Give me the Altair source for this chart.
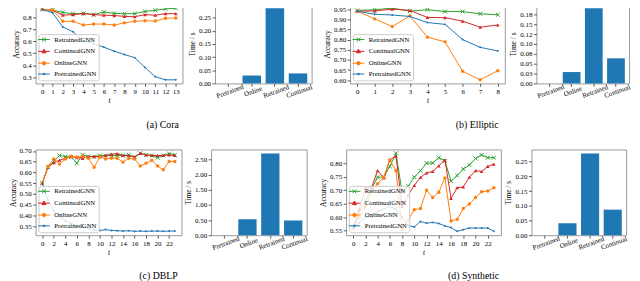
import altair as alt
import pandas as pd

FONT = "Liberation Serif"
SERIES = ["RetrainedGNN", "ContinualGNN", "OnlineGNN", "PretrainedGNN"]
COLORS = ["#2ca02c", "#d62728", "#ff7f0e", "#1f77b4"]
BAR_CATS = ["Pretrained", "Online", "Retrained", "Continual"]

# ---- (a) Cora ----
cora_t = list(range(14))
cora_retrained = [0.866, 0.860, 0.841, 0.830, 0.833, 0.823, 0.844, 0.833, 0.830, 0.831, 0.849, 0.859, 0.870, 0.877]
cora_continual = [0.866, 0.862, 0.818, 0.823, 0.831, 0.823, 0.818, 0.815, 0.808, 0.805, 0.823, 0.818, 0.831, 0.831]
cora_online = [0.866, 0.862, 0.767, 0.767, 0.736, 0.744, 0.744, 0.736, 0.754, 0.767, 0.772, 0.769, 0.792, 0.795]
cora_pretrained = [0.866, 0.838, 0.720, 0.679, 0.603, 0.582, 0.551, 0.518, 0.490, 0.464, 0.382, 0.305, 0.279, 0.279]
cora_time = [0.0, 0.030, 0.286, 0.038]
cora_yticks = [0.3, 0.4, 0.5, 0.6, 0.7, 0.8, 0.9]
cora_xticks = list(range(14))
cora_bar_ticks = [0.0, 0.05, 0.10, 0.15, 0.20, 0.25]

# ---- (b) Elliptic ----
ell_t = list(range(9))
ell_retrained = [0.944, 0.947, 0.955, 0.940, 0.947, 0.938, 0.938, 0.927, 0.922]
ell_continual = [0.940, 0.941, 0.950, 0.944, 0.909, 0.908, 0.891, 0.861, 0.872]
ell_online = [0.940, 0.902, 0.864, 0.917, 0.812, 0.789, 0.644, 0.602, 0.647]
ell_pretrained = [0.940, 0.925, 0.921, 0.914, 0.884, 0.875, 0.800, 0.762, 0.744]
ell_time = [0.0, 0.0288, 0.1907, 0.0637]
ell_yticks = [0.60, 0.65, 0.70, 0.75, 0.80, 0.85, 0.90, 0.95]
ell_xticks = list(range(9))
ell_bar_ticks = [0.0, 0.025, 0.05, 0.075, 0.10, 0.125, 0.15, 0.175, 0.20]
ell_bar_labels = ["0.00", "0.03", "0.05", "0.08", "0.10", "0.12", "0.15", "0.18", "0.20"]

# ---- (c) DBLP ----
dblp_t = list(range(24))
dblp_retrained = [0.550, 0.624, 0.651, 0.679, 0.674, 0.672, 0.643, 0.682, 0.674, 0.674, 0.679, 0.679,
                  0.679, 0.679, 0.679, 0.682, 0.672, 0.689, 0.682, 0.679, 0.669, 0.679, 0.688, 0.682]
dblp_continual = [0.550, 0.625, 0.646, 0.657, 0.666, 0.674, 0.669, 0.666, 0.674, 0.674, 0.674, 0.679,
                  0.685, 0.688, 0.679, 0.679, 0.672, 0.689, 0.682, 0.679, 0.679, 0.679, 0.682, 0.679]
dblp_online = [0.550, 0.628, 0.663, 0.639, 0.663, 0.676, 0.672, 0.676, 0.666, 0.624, 0.672, 0.663,
               0.666, 0.666, 0.648, 0.666, 0.663, 0.630, 0.643, 0.657, 0.630, 0.613, 0.651, 0.651]
dblp_pretrained = [0.550, 0.470, 0.420, 0.395, 0.375, 0.362, 0.352, 0.345, 0.340, 0.333, 0.330, 0.334,
                   0.330, 0.329, 0.327, 0.329, 0.326, 0.327, 0.326, 0.327, 0.327, 0.326, 0.327, 0.327]
dblp_time = [0.0, 0.53, 2.70, 0.49]
dblp_yticks = [0.35, 0.40, 0.45, 0.50, 0.55, 0.60, 0.65, 0.70]
dblp_xticks = list(range(0, 23, 2))
dblp_bar_ticks = [0.0, 0.5, 1.0, 1.5, 2.0, 2.5]

# ---- (d) Synthetic ----
syn_t = list(range(24))
syn_retrained = [0.560, 0.620, 0.660, 0.704, 0.748, 0.748, 0.788, 0.836, 0.692, 0.715, 0.748, 0.772,
                 0.800, 0.800, 0.820, 0.808, 0.733, 0.754, 0.778, 0.793, 0.817, 0.830, 0.820, 0.820]
syn_continual = [0.560, 0.630, 0.709, 0.709, 0.772, 0.745, 0.812, 0.826, 0.640, 0.682, 0.718, 0.747,
                 0.764, 0.769, 0.790, 0.812, 0.670, 0.709, 0.712, 0.748, 0.772, 0.769, 0.788, 0.796]
syn_online = [0.560, 0.600, 0.640, 0.694, 0.724, 0.748, 0.812, 0.772, 0.555, 0.590, 0.628, 0.632,
              0.700, 0.673, 0.692, 0.745, 0.586, 0.592, 0.632, 0.649, 0.673, 0.694, 0.697, 0.709]
syn_pretrained = [0.560, 0.580, 0.600, 0.600, 0.620, 0.630, 0.640, 0.630, 0.600, 0.570, 0.564, 0.584,
                  0.578, 0.581, 0.577, 0.568, 0.562, 0.548, 0.554, 0.560, 0.560, 0.560, 0.560, 0.548]
syn_time = [0.0, 0.0405, 0.278, 0.087]
syn_yticks = [0.55, 0.60, 0.65, 0.70, 0.75, 0.80]
syn_xticks = list(range(0, 23, 2))
syn_bar_ticks = [0.0, 0.05, 0.10, 0.15, 0.20, 0.25]

# ---- marker styles (shape, filled, size) ----
MARKERS = [
    ("M-1,-1L1,1M-1,1L1,-1", False, 16),
    ("triangle-up", True, 14),
    ("circle", True, 12),
    ("circle", True, 4),
]
LEGEND_PATHS = [
    "M-2,0L2,0M-0.67,-0.67L0.67,0.67M-0.67,0.67L0.67,-0.67",
    "M-2,0L2,0M0,-0.75L0.7,0.5L-0.7,0.5Z",
    "M-2,0L2,0M0.6,0A0.6,0.6,0,1,1,-0.6,0A0.6,0.6,0,1,1,0.6,0Z",
    "M-2,0L2,0M0.3,0A0.3,0.3,0,1,1,-0.3,0A0.3,0.3,0,1,1,0.3,0Z",
]


def padded(vals):
    lo, hi = min(vals), max(vals)
    m = (hi - lo) * 0.05
    return [lo - m, hi + m]


def line_panel(t, series_vals, yticks, yfmt, xticks, width, height):
    rows = []
    for name, vals in zip(SERIES, series_vals):
        for ti, v in zip(t, vals):
            rows.append({"t": ti, "series": name, "acc": v})
    df = pd.DataFrame(rows)
    ydom = padded([v for vals in series_vals for v in vals])
    xdom = padded(t)
    x = alt.X("t:Q", scale=alt.Scale(domain=xdom, nice=False, zero=False),
              axis=alt.Axis(values=xticks, title="t", titleFontStyle="italic",
                            labelFlush=False, labelOverlap=False, format="d"))
    y = alt.Y("acc:Q", scale=alt.Scale(domain=ydom, nice=False, zero=False),
              axis=alt.Axis(values=yticks, format=yfmt, title="Accuracy", labelOverlap=False))
    base = alt.Chart(df)
    layers = []
    for name, color, (shape, filled, size) in zip(SERIES, COLORS, MARKERS):
        sub = base.transform_filter(alt.datum.series == name)
        layers.append(sub.mark_line(color=color, strokeWidth=1).encode(x=x, y=y))
        layers.append(sub.mark_point(shape=shape, filled=filled, color=color, size=size,
                                     opacity=1, strokeWidth=1).encode(x=x, y=y))
    leg = alt.Legend(title=None, orient="bottom-left", offset=3,
                     fillColor="rgba(255,255,255,0.8)", strokeColor="#cccccc",
                     cornerRadius=2, padding=2, rowPadding=3, labelOffset=7,
                     labelFont=FONT, labelFontSize=6.8, labelColor="black",
                     symbolSize=36, symbolStrokeWidth=1, symbolOpacity=1)
    legend_layer = base.transform_filter("false").mark_point(filled=True, opacity=1, strokeWidth=1).encode(
        x=x, y=y,
        shape=alt.Shape("series:N", scale=alt.Scale(domain=SERIES, range=LEGEND_PATHS), legend=leg, sort=SERIES),
        fill=alt.Fill("series:N", scale=alt.Scale(domain=SERIES, range=COLORS), legend=leg, sort=SERIES),
        stroke=alt.Stroke("series:N", scale=alt.Scale(domain=SERIES, range=COLORS), legend=leg, sort=SERIES),
    )
    return alt.layer(*layers, legend_layer).properties(width=width, height=height)


def bar_panel(times, ticks, width, height, fmt=".2f", labels=None):
    df = pd.DataFrame({"method": BAR_CATS, "time": times})
    top = max(times) * 1.05
    if labels is not None:
        arr = "[" + ",".join("'%s'" % s for s in labels) + "]"
        step = ticks[1] - ticks[0]
        axis = alt.Axis(values=ticks, title="Time / s", labelOverlap=False,
                        labelExpr=arr + "[round(datum.value/%r)]" % step)
    else:
        axis = alt.Axis(values=ticks, title="Time / s", format=fmt, labelOverlap=False)
    return alt.Chart(df).mark_bar(color="#1f77b4").encode(
        x=alt.X("method:N", sort=BAR_CATS,
                scale=alt.Scale(paddingInner=0.2, paddingOuter=0.19),
                axis=alt.Axis(title=None, labelAngle=340, labelAlign="center", labelBaseline="top",
                              labelOverlap=False, labelPadding=1)),
        y=alt.Y("time:Q", scale=alt.Scale(domain=[0, top], nice=False), axis=axis),
    ).properties(width=width, height=height)


IND = dict(fill="independent", stroke="independent", shape="independent")


def pair(line, bar, caption, spacing, offset):
    return alt.hconcat(line, bar, spacing=spacing).resolve_scale(**IND).properties(
        title=alt.TitleParams(caption, orient="bottom", anchor="middle", offset=offset))


H1, H2 = 80, 87

cora = pair(
    line_panel(cora_t, [cora_retrained, cora_continual, cora_online, cora_pretrained],
               cora_yticks, ".1f", cora_xticks, 149, H1),
    bar_panel(cora_time, cora_bar_ticks, 98, H1), "(a) Cora", 4, 15.5)
ell = pair(
    line_panel(ell_t, [ell_retrained, ell_continual, ell_online, ell_pretrained],
               ell_yticks, ".2f", ell_xticks, 157, H1),
    bar_panel(ell_time, ell_bar_ticks, 94, H1, labels=ell_bar_labels), "(b) Elliptic", 3, 15.5)
dblp = pair(
    line_panel(dblp_t, [dblp_retrained, dblp_continual, dblp_online, dblp_pretrained],
               dblp_yticks, ".2f", dblp_xticks, 148, H2),
    bar_panel(dblp_time, dblp_bar_ticks, 97, H2), "(c) DBLP", 1, 15)
syn = pair(
    line_panel(syn_t, [syn_retrained, syn_continual, syn_online, syn_pretrained],
               syn_yticks, ".2f", syn_xticks, 157, H2),
    bar_panel(syn_time, syn_bar_ticks, 96, H2), "(d) Synthetic", 2, 15)

row1 = alt.hconcat(cora, ell, spacing=9).resolve_scale(**IND)
row2 = alt.hconcat(dblp, syn, spacing=10).resolve_scale(**IND)

chart = alt.vconcat(row1, row2, spacing=17).resolve_scale(**IND).properties(
    padding={"left": 0, "top": -10.5, "right": 0, "bottom": 0}
).configure_view(stroke="#999999", strokeWidth=1).configure_axis(
    labelFont=FONT, titleFont=FONT, labelFontSize=7, titleFontSize=7.5,
    labelColor="#000000", titleColor="#000000", titleFontWeight="normal",
    tickColor="#333333", tickSize=3, tickWidth=0.8, domain=False, grid=False,
    labelPadding=1.5, titlePadding=2,
).configure_title(font=FONT, fontSize=10, fontWeight="normal", color="#000000")

chart.save("out.html", embed_options={"renderer": "svg", "actions": False})
